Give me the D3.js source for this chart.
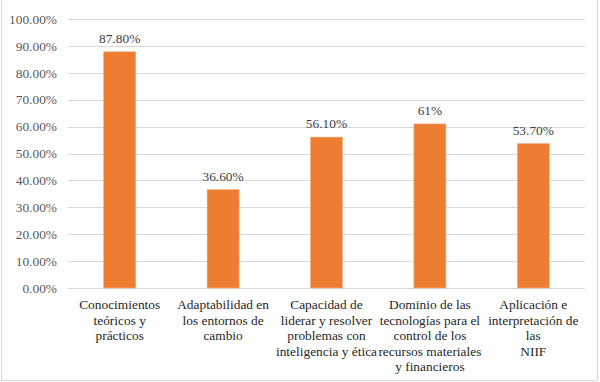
<!DOCTYPE html>
<html><head><meta charset="utf-8">
<script src="https://cdn.jsdelivr.net/npm/d3@7"></script>
<style>body{margin:0;background:#fff}svg{display:block}</style>
</head><body>
<svg id="c" width="600" height="382"></svg>
<script>
const categories = [
  ["Conocimientos","teóricos y","prácticos"],
  ["Adaptabilidad en","los entornos de","cambio"],
  ["Capacidad de","liderar y resolver","problemas con","inteligencia y ética"],
  ["Dominio de las","tecnologías para el","control de los","recursos materiales","y financieros"],
  ["Aplicación e","interpretación de","las","NIIF"]
];
const values = [0.878, 0.366, 0.561, 0.61, 0.537];
const valueLabels = ["87.80%","36.60%","56.10%","61%","53.70%"];
const yTicks = [0,0.1,0.2,0.3,0.4,0.5,0.6,0.7,0.8,0.9,1.0];

const FONT = "'Liberation Serif'";
const FS = "13.4px";
const svg = d3.select("#c");
svg.append("rect").attr("x",1.5).attr("y",-2).attr("width",596).attr("height",382.5)
  .attr("fill","#fff").attr("stroke","#d9d9d9").attr("stroke-width",1);

const x = d3.scaleBand().domain(d3.range(values.length)).range([68,585]).paddingInner(0.69).paddingOuter(0.345);
const y = d3.scaleLinear().domain([0,1]).range([288,19]);

const yAxis = d3.axisLeft(y).tickValues(yTicks).tickFormat(d=>d3.format(".2f")(d*100)+"%").tickSize(0).tickPadding(11);
const gy = svg.append("g").attr("transform","translate(68,0)").call(yAxis);
gy.select(".domain").remove();
gy.selectAll("text").style("font-family",FONT).style("font-size",FS).attr("fill","#595959");

svg.append("g").selectAll("line").data(yTicks).join("line")
  .attr("x1",68).attr("x2",585).attr("y1",d=>Math.round(y(d))+0.5).attr("y2",d=>Math.round(y(d))+0.5)
  .attr("stroke","#d9d9d9").attr("stroke-width",1);

svg.append("g").selectAll("rect").data(values).join("rect")
  .attr("x",(d,i)=>x(i)).attr("width",x.bandwidth())
  .attr("y",d=>y(d)).attr("height",d=>y(0)-y(d))
  .attr("fill","#ED7D31").attr("stroke","#F4B183").attr("stroke-width",0.6);

svg.append("g").selectAll("text").data(values).join("text")
  .attr("x",(d,i)=>x(i)+x.bandwidth()/2).attr("y",d=>y(d)-9)
  .attr("text-anchor","middle").style("font-family",FONT).style("font-size",FS).attr("fill","#404040")
  .text((d,i)=>valueLabels[i]);

const cg = svg.append("g").selectAll("text").data(categories).join("text")
  .attr("text-anchor","middle").style("font-family",FONT).style("font-size",FS).attr("fill","#262626");
cg.each(function(lines,i){
  const t = d3.select(this);
  lines.forEach((l,j)=>{
    t.append("tspan").attr("x",x(i)+x.bandwidth()/2).attr("y",309+j*15.5).text(l);
  });
});
</script>
</body></html>
